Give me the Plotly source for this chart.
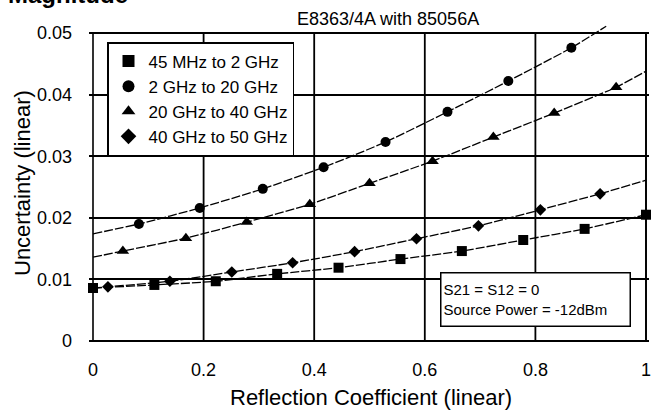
import plotly.graph_objects as go

# ---------------------------------------------------------------------------
# Data (reflection coefficient vs uncertainty)
# ---------------------------------------------------------------------------
SERIES_NAMES = ["45 MHz to 2 GHz", "2 GHz to 20 GHz", "20 GHz to 40 GHz", "40 GHz to 50 GHz"]

# markers
X_SQUARE = [0.0, 0.111, 0.222, 0.333, 0.444, 0.556, 0.667, 0.778, 0.889, 1.0]
Y_SQUARE = [0.0086, 0.0091, 0.0097, 0.0109, 0.0119, 0.0133, 0.0146, 0.0164, 0.0182, 0.0205]

X_CIRCLE = [0.083, 0.193, 0.307, 0.417, 0.529, 0.641, 0.751, 0.865]
Y_CIRCLE = [0.0190, 0.0216, 0.0247, 0.0282, 0.0323, 0.0372, 0.0422, 0.0476]

X_TRIANGLE = [0.054, 0.168, 0.278, 0.392, 0.500, 0.614, 0.724, 0.834, 0.946]
Y_TRIANGLE = [0.0146, 0.0167, 0.0193, 0.0222, 0.0256, 0.0292, 0.0331, 0.0370, 0.0412]

X_DIAMOND = [0.027, 0.139, 0.251, 0.361, 0.473, 0.585, 0.697, 0.809, 0.917]
Y_DIAMOND = [0.0088, 0.0097, 0.0112, 0.0127, 0.0145, 0.0166, 0.0187, 0.0213, 0.0239]

# fitted curves: start / end values
FIT_START = [0.0085, 0.0174, 0.0136, 0.0086]
FIT_END_X = [1.0, 0.928, 1.0, 1.0]
FIT_END_Y = [0.0205, 0.0511, 0.0438, 0.0261]

X_TICKS = [0, 0.2, 0.4, 0.6, 0.8, 1]
X_TICK_TEXT = ["0", "0.2", "0.4", "0.6", "0.8", "1"]
Y_TICKS = [0, 0.01, 0.02, 0.03, 0.04, 0.05]
Y_TICK_TEXT = ["0", "0.01", "0.02", "0.03", "0.04", "0.05"]

FONT = "Liberation Sans, Arial, sans-serif"
INK = "black"

# plot box: a few px of slack round the 0..1 / 0..0.05 frame so its edges are not clipped
W, H = 652, 410
M_L, M_R, M_T, M_B = 89, 3, 21, 65
PLOT_W, PLOT_H = W - M_L - M_R, H - M_T - M_B
X_RANGE = [-4 / 553, 1 + 3 / 553]
Y_RANGE = [-4 / 6160, 0.05 + 12 / 6160]


def px(x, y):
    """pixel position -> paper coords"""
    return (x - M_L) / PLOT_W, (H - M_B - y) / PLOT_H


SYMBOLS = ["square", "circle", "triangle-up", "diamond"]
SIZES = [10, 10, 11, 9]
XS = [X_SQUARE, X_CIRCLE, X_TRIANGLE, X_DIAMOND]
YS = [Y_SQUARE, Y_CIRCLE, Y_TRIANGLE, Y_DIAMOND]

fig = go.Figure()

# fitted lines first (no legend)
for i in range(4):
    xs, ys = list(XS[i]), list(YS[i])
    if xs[0] > 0:
        xs, ys = [0.0] + xs, [FIT_START[i]] + ys
    if xs[-1] < FIT_END_X[i]:
        xs, ys = xs + [FIT_END_X[i]], ys + [FIT_END_Y[i]]
    fig.add_trace(go.Scatter(
        x=xs, y=ys, mode="lines", showlegend=False, hoverinfo="skip",
        line=dict(color=INK, width=1.3, dash="9px,2px", shape="spline", smoothing=0.6),
    ))

# markers
for i in range(4):
    fig.add_trace(go.Scatter(
        x=XS[i], y=YS[i], mode="markers", name=SERIES_NAMES[i],
        marker=dict(symbol=SYMBOLS[i], size=SIZES[i], color=INK, line=dict(width=0)),
        cliponaxis=False,
    ))

# vertical grid + frame limited to the 0..0.05 box
shapes = []
for xv in X_TICKS[1:]:
    shapes.append(dict(type="line", xref="x", yref="y", x0=xv, x1=xv, y0=0, y1=0.05,
                       line=dict(color=INK, width=1.8), layer="below"))
shapes.append(dict(type="rect", xref="x", yref="y", x0=0, x1=1, y0=0, y1=0.05,
                   line=dict(color=INK, width=1.6), layer="below"))

lg_x, lg_y = px(107, 42)
xt_x, xt_y = px(371, 397)
yt_x, yt_y = px(22, 183)
hd_x, hd_y = px(388, 19)
mg_x, mg_y = px(6, 10)

fig.update_layout(
    width=W, height=H,
    margin=dict(l=M_L, r=M_R, t=M_T, b=M_B),
    paper_bgcolor="white", plot_bgcolor="white",
    font=dict(family=FONT, size=18, color=INK),
    shapes=shapes,
    xaxis=dict(
        range=X_RANGE, showgrid=False, zeroline=False, showline=False,
        tickvals=X_TICKS, ticktext=X_TICK_TEXT, ticks="", ticklabelstandoff=12,
        tickfont=dict(size=18), automargin=False, ticklabeloverflow="allow",
    ),
    yaxis=dict(
        range=Y_RANGE, showgrid=True, gridcolor=INK, gridwidth=1.6,
        zeroline=False, showline=False,
        tickvals=Y_TICKS, ticktext=Y_TICK_TEXT, ticks="", ticklabelstandoff=16,
        tickfont=dict(size=18), automargin=False,
    ),
    legend=dict(
        x=lg_x, y=lg_y, xanchor="left", yanchor="top",
        bgcolor="white", bordercolor=INK, borderwidth=1.5,
        font=dict(size=17), itemsizing="constant", tracegroupgap=0,
    ),
    annotations=[
        dict(text="Reflection Coefficient (linear)", xref="paper", yref="paper",
             x=xt_x, y=xt_y, xanchor="center", yanchor="middle",
             showarrow=False, font=dict(size=22)),
        dict(text="Uncertainty (linear)", xref="paper", yref="paper",
             x=yt_x, y=yt_y, xanchor="center", yanchor="middle", textangle=-90,
             showarrow=False, font=dict(size=22)),
        dict(text="E8363/4A with 85056A", xref="paper", yref="paper",
             x=hd_x, y=hd_y, xanchor="center", yanchor="middle",
             showarrow=False, font=dict(size=18)),
        dict(text="<b>Magnitude</b>", xref="paper", yref="paper",
             x=mg_x, y=mg_y, xanchor="left", yanchor="bottom",
             showarrow=False, font=dict(size=24)),
        dict(text="S21 = S12 = 0<br>Source Power = -12dBm", xref="x", yref="y",
             x=0.628, y=0.0112, xanchor="left", yanchor="top", align="left",
             showarrow=False, font=dict(size=15), bgcolor="white",
             bordercolor=INK, borderwidth=1.5, borderpad=2, width=184, height=48),
    ],
)

# drop the browser's default 8px body margin so the figure sits at the page corner
fig.write_html("out.html", config={"displayModeBar": False},
               post_script="document.body.style.margin='0px';")
